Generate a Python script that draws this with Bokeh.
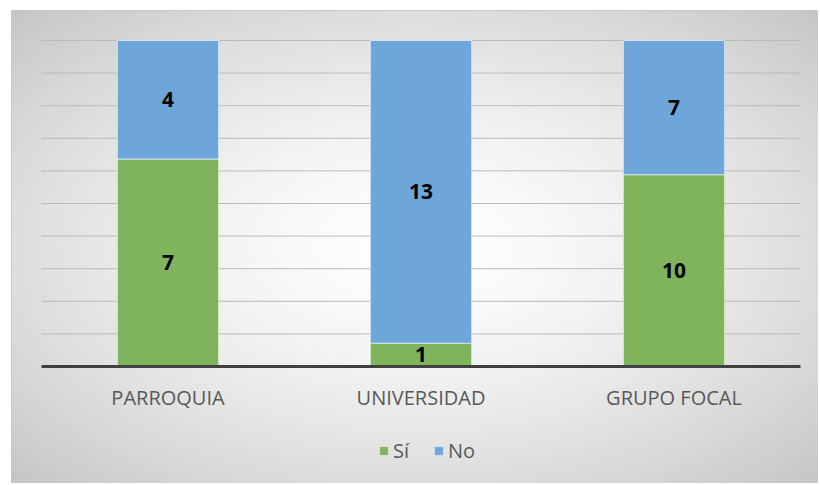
import numpy as np
from bokeh.plotting import figure
from bokeh.models import Range1d, ColumnDataSource, Legend, LegendItem
from bokeh.core.properties import value
from bokeh.embed import file_html
from bokeh.resources import INLINE

categories = ["PARROQUIA", "UNIVERSIDAD", "GRUPO FOCAL"]
si = [7, 1, 10]
no = [4, 13, 7]
series_names = ["Sí", "No"]
grid_ticks = [10, 20, 30, 40, 50, 60, 70, 80, 90, 100]

GREEN = "#7FB45D"
BLUE = "#6EA6DA"

W, H = 818, 483
ML, MT = 11, 10
frame_w, frame_h = W - ML, H - MT
# plot area geometry (pixels within frame)
pa_left, pa_right = 30, 789
pa_top, pa_bottom = 30, 356
ppx = (pa_right - pa_left) / len(categories)
ppy = (pa_bottom - pa_top) / 100.0
x0 = -pa_left / ppx
x1 = x0 + frame_w / ppx
y1 = 100 + pa_top / ppy
y0 = y1 - frame_h / ppy

p = figure(width=W, height=H, output_backend="svg", toolbar_location=None,
           x_range=Range1d(x0, x1), y_range=Range1d(y0, y1),
           min_border_left=ML, min_border_top=MT, min_border_right=0, min_border_bottom=0)
p.xaxis.visible = False
p.yaxis.visible = False
p.grid.visible = False
p.outline_line_color = "#c4c4c4"
p.border_fill_color = "white"
p.background_fill_color = "white"

# radial gradient background
nx, ny = 400, 240
xs = np.linspace(-1, 1, nx)
ys = np.linspace(-1, 1, ny)
X, Y = np.meshgrid(xs, ys)
d = np.clip(np.sqrt(X**2 + Y**2) / np.sqrt(2), 0, 1) ** 1.5
g = (255 - 57 * d).astype(np.uint32)
img = (255 << 24) | (g << 16) | (g << 8) | g
p.image_rgba(image=[img], x=x0, y=y0, dw=x1 - x0, dh=y1 - y0)

# gridlines
p.segment(x0=[0] * len(grid_ticks), x1=[len(categories)] * len(grid_ticks),
          y0=grid_ticks, y1=grid_ticks, line_color="#bababa", line_width=1)

tot = [a + b for a, b in zip(si, no)]
si_pct = [100 * a / t for a, t in zip(si, tot)]
xc = [i + 0.5 for i in range(len(categories))]
src = ColumnDataSource(dict(x=xc, si_top=si_pct, top=[100] * len(xc),
                            zero=[0] * len(xc), si=si, no=no,
                            si_mid=[v / 2 for v in si_pct],
                            no_mid=[(v + 100) / 2 for v in si_pct],
                            si_lab=[str(v) for v in si], no_lab=[str(v) for v in no]))
r1 = p.vbar(x="x", width=0.4, bottom="zero", top="si_top", source=src,
            fill_color=GREEN, line_color="#d6e8c8", line_width=1)
r2 = p.vbar(x="x", width=0.4, bottom="si_top", top="top", source=src,
            fill_color=BLUE, line_color="#cfe1f2", line_width=1)

# axis line
p.segment(x0=[0], x1=[len(categories)], y0=[0], y1=[0], line_color="#404040", line_width=3)

for col_y, col_t in (("si_mid", "si_lab"), ("no_mid", "no_lab")):
    p.text(x="x", y=col_y, text=col_t, source=src, text_align="center",
           text_baseline="middle", text_font=value("Open Sans"), text_font_style="bold",
           text_font_size="21px", text_color="black")

# category labels
p.text(x=xc, y=[-9.5] * len(xc), text=categories, text_align="center",
       text_baseline="middle", text_font=value("Open Sans"), text_font_size="20px",
       text_color="#595959")

legend = Legend(items=[LegendItem(label=series_names[0], renderers=[r1]),
                       LegendItem(label=series_names[1], renderers=[r2])],
                orientation="horizontal", location=(367, 19),
                background_fill_alpha=0, border_line_alpha=0,
                glyph_width=11, glyph_height=11, label_standoff=4, spacing=20,
                padding=0, margin=0,
                label_text_font="Open Sans", label_text_font_size="20px",
                label_text_color="#595959")
p.add_layout(legend, "center")

open("out.html", "w").write(file_html(p, INLINE))
